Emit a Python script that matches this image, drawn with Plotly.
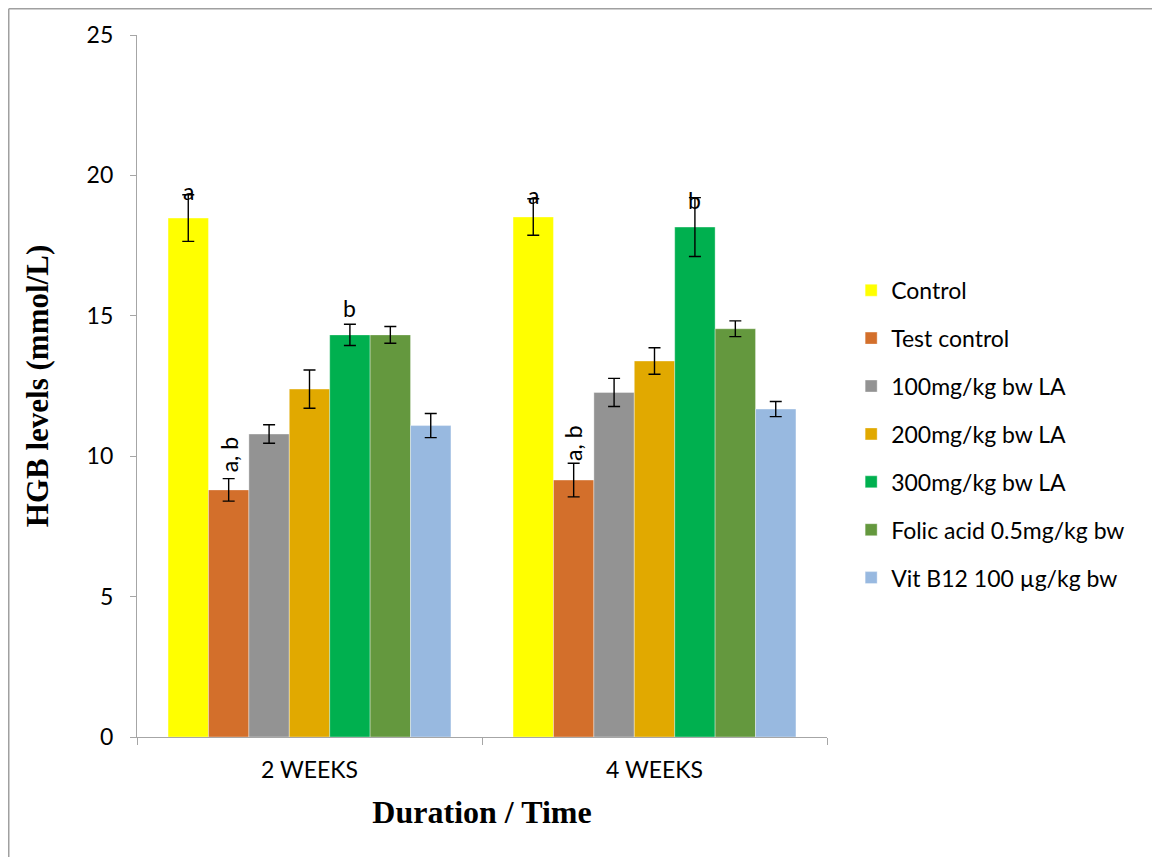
import plotly.graph_objects as go

categories = ["2 WEEKS", "4 WEEKS"]
groups = ["Control", "Test control", "100mg/kg bw LA", "200mg/kg bw LA",
          "300mg/kg bw LA", "Folic acid 0.5mg/kg bw", "Vit B12 100 µg/kg bw"]
colors = ["#FFFF00", "#D36F2B", "#939393", "#E1A900", "#00B04F", "#64983E", "#98B9E0"]

means_2w = [18.48, 8.80, 10.79, 12.39, 14.32, 14.32, 11.09]
err_2w = [0.83, 0.40, 0.33, 0.68, 0.38, 0.30, 0.43]
means_4w = [18.52, 9.15, 12.27, 13.39, 18.16, 14.54, 11.68]
err_4w = [0.65, 0.60, 0.50, 0.47, 1.05, 0.28, 0.27]

# significance letters: (category index, group index, text, rotated, pixel shift)
labels = [(0, 0, "a", False, 4), (0, 1, "a, b", True, 24), (0, 4, "b", False, 16),
          (1, 0, "a", False, 4), (1, 1, "a, b", True, 20), (1, 4, "b", False, -2)]

sans = "Lato, Open Sans, sans-serif"
serif = "Liberation Serif, Times New Roman, serif"
tick_font = dict(family=sans, size=23, color="#000000")

fig = go.Figure()
for i, g in enumerate(groups):
    fig.add_trace(go.Bar(
        name=g, x=categories, y=[means_2w[i], means_4w[i]],
        marker=dict(color=colors[i], line=dict(width=0.6, color="rgba(255,255,255,0.6)")),
        error_y=dict(type="data", array=[err_2w[i], err_4w[i]], color="#000000",
                     thickness=1.4, width=6),
        legendgroup=g,
    ))

# page body has an 8px margin, figure sized to fit the window
W, H = 1152, 849
ml, mt = 129, 27
plot_w, plot_h = 690, 702
mr = W - ml - plot_w
mb = H - mt - plot_h
bargap = 0.18
bar_px = plot_w / len(categories) * (1 - bargap) / len(groups)

annotations = []
all_means = [means_2w, means_4w]
all_errs = [err_2w, err_4w]
for ci, gi, txt, rot, shift in labels:
    yv = all_means[ci][gi] + all_errs[ci][gi]
    annotations.append(dict(
        x=categories[ci], y=yv, xref="x", yref="y", text=txt, showarrow=False,
        xshift=(gi - (len(groups) - 1) / 2) * bar_px, yshift=shift,
        yanchor="middle", xanchor="center", textangle=-90 if rot else 0,
        font=dict(family=sans, size=23, color="#000000"),
    ))

px_x = lambda p: (p - ml) / plot_w
px_y = lambda p: (mt + plot_h - p) / plot_h
frame = dict(color="#A0A0A0", width=1.5)

fig.update_layout(
    width=W, height=H,
    margin=dict(l=ml, r=mr, t=mt, b=mb),
    paper_bgcolor="white", plot_bgcolor="white",
    barmode="group", bargap=bargap, bargroupgap=0,
    showlegend=True,
    legend=dict(x=1.035, y=0.667, xanchor="left", yanchor="top",
                font=dict(family=sans, size=23, color="#000000"),
                tracegroupgap=15, traceorder="grouped", bgcolor="rgba(0,0,0,0)"),
    xaxis=dict(
        showgrid=False, showline=True, linecolor="#A6A6A6", linewidth=1.2,
        ticks="outside", tickson="boundaries", ticklen=7, tickcolor="#A6A6A6",
        tickfont=tick_font, ticklabelstandoff=12,
        title=dict(text="<b>Duration / Time</b>", standoff=18,
                   font=dict(family=serif, size=32, color="#000000")),
    ),
    yaxis=dict(
        range=[0, 25], dtick=5, showgrid=False, showline=True, linecolor="#A6A6A6", linewidth=1.2,
        ticks="outside", ticklen=6, tickcolor="#A6A6A6", tickfont=tick_font, ticklabelstandoff=12,
        zeroline=False,
        title=dict(text="<b>HGB levels (mmol/L)</b>", standoff=28,
                   font=dict(family=serif, size=31, color="#000000")),
    ),
    annotations=annotations,
    shapes=[
        dict(type="line", xref="paper", yref="paper", x0=px_x(0.75), x1=px_x(W),
             y0=px_y(0.75), y1=px_y(0.75), line=frame, layer="below"),
        dict(type="line", xref="paper", yref="paper", x0=px_x(0.75), x1=px_x(0.75),
             y0=px_y(0.75), y1=px_y(H), line=frame, layer="below"),
    ],
)

fig.write_html("out.html")
